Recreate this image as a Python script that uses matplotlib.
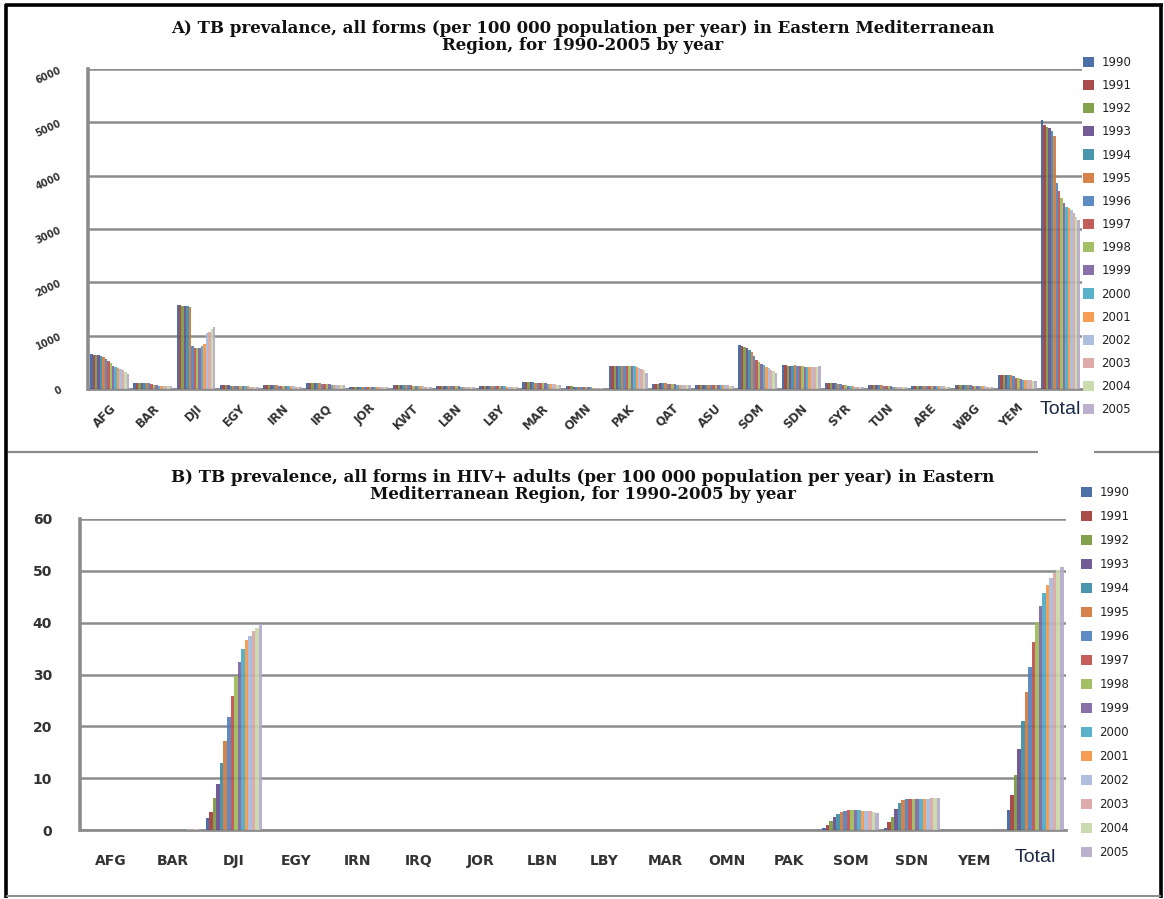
import matplotlib
matplotlib.use("Agg")
import matplotlib.pyplot as plt
from matplotlib.lines import Line2D
import numpy as np

years = [str(y) for y in range(1990, 2006)]
colors = ['#3D64A0', '#A23D3B', '#7A9A3F', '#674E8C', '#3A8DA5', '#D2793A',
          '#4F81BD', '#C0504D', '#9BBB59', '#8064A2', '#4BACC6', '#F79646',
          '#A7B9DC', '#DBA4A3', '#C6D9A6', '#B7A9CB']

# ---- Panel A data (per 100 000 population per year) ----
cats_a = ['AFG', 'BAR', 'DJI', 'EGY', 'IRN', 'IRQ', 'JOR', 'KWT', 'LBN', 'LBY', 'MAR', 'OMN',
          'PAK', 'QAT', 'ASU', 'SOM', 'SDN', 'SYR', 'TUN', 'ARE', 'WBG', 'YEM', 'Total']
a_AFG = [650, 645, 640, 630, 620, 600, 560, 520, 480, 440, 420, 400, 380, 350, 310, 280]
a_BAR = [115, 115, 115, 115, 112, 110, 105, 95, 75, 70, 65, 60, 60, 55, 50, 50]
a_DJI = [1575, 1570, 1565, 1560, 1555, 1545, 810, 770, 760, 770, 800, 850, 1050, 1060, 1120, 1170]
a_EGY = [70, 70, 68, 66, 64, 62, 60, 58, 55, 52, 50, 48, 46, 44, 42, 40]
a_IRN = [75, 75, 74, 72, 70, 68, 65, 62, 58, 55, 52, 50, 48, 46, 44, 42]
a_IRQ = [110, 112, 115, 113, 110, 105, 100, 95, 90, 85, 82, 80, 80, 78, 76, 75]
a_JOR = [45, 45, 44, 44, 43, 42, 42, 41, 40, 40, 39, 38, 38, 37, 36, 35]
a_KWT = [78, 78, 78, 77, 76, 75, 74, 70, 65, 60, 55, 50, 48, 46, 45, 44]
a_LBN = [65, 65, 64, 63, 62, 60, 58, 55, 50, 48, 45, 42, 40, 38, 36, 35]
a_LBY = [58, 58, 57, 57, 56, 55, 55, 54, 52, 50, 48, 46, 45, 44, 42, 40]
a_MAR = [125, 125, 124, 124, 122, 120, 118, 115, 110, 105, 100, 95, 90, 85, 80, 78]
a_OMN = [50, 50, 48, 46, 44, 42, 40, 38, 35, 32, 30, 28, 26, 25, 24, 22]
a_PAK = [440, 440, 440, 440, 440, 440, 440, 438, 435, 430, 425, 420, 400, 380, 350, 300]
a_QAT = [85, 88, 95, 105, 110, 105, 95, 90, 88, 86, 84, 82, 80, 78, 76, 75]
a_ASU = [70, 70, 70, 70, 70, 70, 70, 70, 70, 70, 70, 70, 68, 66, 64, 62]
a_SOM = [830, 800, 780, 760, 740, 700, 620, 540, 500, 470, 450, 420, 390, 360, 330, 300]
a_SDN = [445, 445, 440, 440, 435, 445, 440, 440, 430, 420, 415, 410, 410, 410, 415, 430]
a_SYR = [120, 120, 120, 115, 110, 100, 90, 80, 70, 60, 55, 50, 45, 40, 40, 40]
a_TUN = [75, 75, 74, 72, 70, 68, 65, 60, 55, 50, 45, 42, 40, 40, 38, 36]
a_ARE = [55, 55, 55, 54, 54, 53, 52, 52, 51, 50, 50, 49, 48, 47, 46, 45]
a_WBG = [70, 72, 75, 76, 75, 72, 70, 65, 60, 55, 52, 50, 48, 46, 45, 44]
a_YEM = [260, 260, 265, 265, 262, 258, 240, 215, 200, 185, 175, 165, 160, 160, 158, 155]
a_TOT = [5050, 4950, 4920, 4890, 4845, 4750, 3860, 3720, 3580, 3485, 3420, 3390, 3360, 3300, 3230, 3160]
a_rows = [a_AFG, a_BAR, a_DJI, a_EGY, a_IRN, a_IRQ, a_JOR, a_KWT, a_LBN, a_LBY, a_MAR, a_OMN,
          a_PAK, a_QAT, a_ASU, a_SOM, a_SDN, a_SYR, a_TUN, a_ARE, a_WBG, a_YEM, a_TOT]
a_yticks = [0, 1000, 2000, 3000, 4000, 5000, 6000]

# ---- Panel B data (HIV+ adults) ----
cats_b = ['AFG', 'BAR', 'DJI', 'EGY', 'IRN', 'IRQ', 'JOR', 'LBN', 'LBY', 'MAR', 'OMN',
          'PAK', 'SOM', 'SDN', 'YEM', 'Total']
b_AFG = [0] * 16
b_BAR = [0, 0, 0, 0, 0, 0, 0, 0, 0, 0, 0.05, 0.08, 0.1, 0.1, 0.1, 0.1]
b_DJI = [2.3, 3.5, 6.1, 8.9, 12.9, 17.1, 21.8, 25.9, 29.7, 32.5, 34.9, 36.7, 37.5, 38.3, 38.9, 39.7]
b_EGY = [0] * 16
b_IRN = [0, 0, 0, 0, 0, 0, 0, 0, 0, 0, 0, 0.05, 0.05, 0.05, 0.05, 0.05]
b_IRQ = [0] * 16
b_JOR = [0] * 16
b_LBN = [0] * 16
b_LBY = [0, 0, 0, 0, 0, 0, 0, 0, 0, 0, 0, 0, 0.05, 0.05, 0.05, 0.05]
b_MAR = [0.05] * 16
b_OMN = [0] * 16
b_PAK = [0, 0, 0, 0, 0, 0, 0, 0, 0.05, 0.05, 0.05, 0.05, 0.05, 0.05, 0.05, 0.05]
b_SOM = [0.4, 0.9, 1.7, 2.5, 3.0, 3.5, 3.7, 3.8, 3.8, 3.8, 3.8, 3.7, 3.7, 3.65, 3.5, 3.3]
b_SDN = [0.3, 1.5, 2.6, 4.1, 5.3, 5.8, 6.0, 6.0, 6.0, 6.0, 6.0, 6.0, 6.0, 6.1, 6.2, 6.2]
b_YEM = [0, 0, 0, 0, 0, 0, 0, 0, 0, 0, 0, 0, 0.05, 0.05, 0.05, 0.05]
b_TOT = [3.9, 6.8, 10.6, 15.6, 21.0, 26.6, 31.5, 36.2, 40.1, 43.3, 45.7, 47.2, 48.7, 49.5, 50.2, 50.8]
b_rows = [b_AFG, b_BAR, b_DJI, b_EGY, b_IRN, b_IRQ, b_JOR, b_LBN, b_LBY, b_MAR, b_OMN,
          b_PAK, b_SOM, b_SDN, b_YEM, b_TOT]
b_yticks = [0, 10, 20, 30, 40, 50, 60]

title_a = ("A) TB prevalance, all forms (per 100 000 population per year) in Eastern Mediterranean\n"
           "Region, for 1990-2005 by year")
title_b = ("B) TB prevalence, all forms in HIV+ adults (per 100 000 population per year) in Eastern\n"
           "Mediterranean Region, for 1990-2005 by year")

W, H = 1164, 899
fig = plt.figure(figsize=(W / 100, H / 100), dpi=100)
fig.patch.set_facecolor('white')

GRID = '#8c8c8c'


def px_axes(l, t, r, b):
    return fig.add_axes([l / W, 1 - b / H, (r - l) / W, (b - t) / H])


def draw_panel(ax, cats, rows, yticks, group_frac):
    data = np.array(rows, dtype=float)  # cats x years
    n = len(years)
    x = np.arange(len(cats))
    bw = group_frac / n
    handles = []
    for j, yr in enumerate(years):
        off = (j - (n - 1) / 2) * bw
        h = ax.bar(x + off, data[:, j], width=bw, color=colors[j], alpha=0.92,
                   linewidth=0, label=yr, zorder=3)
        handles.append(h)
    ax.set_xlim(-0.5, len(cats) - 0.5)
    ax.set_ylim(yticks[0], yticks[-1])
    ax.set_yticks(yticks)
    ax.yaxis.grid(True, color=GRID, linewidth=1.8, zorder=1)
    ax.set_axisbelow(True)
    for s in ['top', 'right']:
        ax.spines[s].set_visible(False)
    ax.spines['left'].set_color(GRID)
    ax.spines['left'].set_linewidth(2.6)
    ax.spines['bottom'].set_color(GRID)
    ax.spines['bottom'].set_linewidth(2.0)
    ax.tick_params(axis='both', length=0)
    ax.set_xticks(x)
    return handles


# ---------------- Panel A ----------------
axA = px_axes(88, 69, 1082, 389)
hA = draw_panel(axA, cats_a, a_rows, a_yticks, 0.9)
axA.set_xticklabels(cats_a)
for lbl in axA.get_xticklabels():
    if lbl.get_text() == 'Total':
        lbl.set_rotation(0)
        lbl.set_fontsize(14)
        lbl.set_family('Liberation Sans')
        lbl.set_color('#1c2a48')
        lbl.set_ha('center')
    else:
        lbl.set_rotation(45)
        lbl.set_rotation_mode('anchor')
        lbl.set_ha('right')
        lbl.set_va('top')
        lbl.set_fontsize(8.5)
        lbl.set_fontweight('bold')
        lbl.set_color('#333333')
axA.tick_params(axis='x', pad=9)
axA.set_yticklabels([str(v) for v in a_yticks], rotation=25, fontsize=7, fontweight='bold',
                    color='#333333')
axA.tick_params(axis='y', pad=18)

fig.text(583 / W, 1 - 37 / H, title_a, ha='center', va='center', family='DejaVu Serif',
         fontweight='bold', fontsize=12, linespacing=0.95, color='#111111')

legA = axA.legend(handles=hA, loc='upper left', bbox_to_anchor=(1083 / W, 1 - 56 / H),
                  bbox_transform=fig.transFigure, frameon=False, fontsize=8.5,
                  handlelength=0.95, handleheight=0.95, handletextpad=0.6,
                  labelspacing=0.86, borderpad=0, borderaxespad=0)
for t in legA.get_texts():
    t.set_color('#222222')

# ---------------- Panel B ----------------
axB = px_axes(80, 519, 1066, 830)
hB = draw_panel(axB, cats_b, b_rows, b_yticks, 0.92)
axB.set_xticklabels(cats_b)
for lbl in axB.get_xticklabels():
    if lbl.get_text() == 'Total':
        lbl.set_fontsize(14)
        lbl.set_family('Liberation Sans')
        lbl.set_color('#1c2a48')
        lbl.set_y(0.015)
    else:
        lbl.set_fontsize(10)
        lbl.set_fontweight('bold')
        lbl.set_color('#333333')
axB.tick_params(axis='x', pad=17)
axB.set_yticklabels([str(v) for v in b_yticks], fontsize=10, fontweight='bold', color='#333333')
axB.tick_params(axis='y', pad=20)

fig.text(583 / W, 1 - 486 / H, title_b, ha='center', va='center', family='DejaVu Serif',
         fontweight='bold', fontsize=12, linespacing=0.95, color='#111111')

legB = axB.legend(handles=hB, loc='upper left', bbox_to_anchor=(1081 / W, 1 - 486 / H),
                  bbox_transform=fig.transFigure, frameon=False, fontsize=8.5,
                  handlelength=0.95, handleheight=0.95, handletextpad=0.6,
                  labelspacing=0.93, borderpad=0, borderaxespad=0)
for t in legB.get_texts():
    t.set_color('#222222')

# ---------------- frame and divider ----------------
def fline(x0, y0, x1, y1, color, lw):
    fig.add_artist(Line2D([x0 / W, x1 / W], [1 - y0 / H, 1 - y1 / H], color=color,
                          linewidth=lw, transform=fig.transFigure, solid_capstyle='butt'))

fline(8, 452, 1038, 452, '#8c8c8c', 1.6)
fline(1094, 452, 1162, 452, '#8c8c8c', 1.6)
fline(6, 4, 6, 898, 'black', 2.6)
fline(5, 5, 1163, 5, 'black', 2.6)
fline(1161, 4, 1161, 898, 'black', 2.6)
fline(6, 896, 1161, 896, '#8c8c8c', 1.4)

fig.savefig('out.png', dpi=100, facecolor='white')
